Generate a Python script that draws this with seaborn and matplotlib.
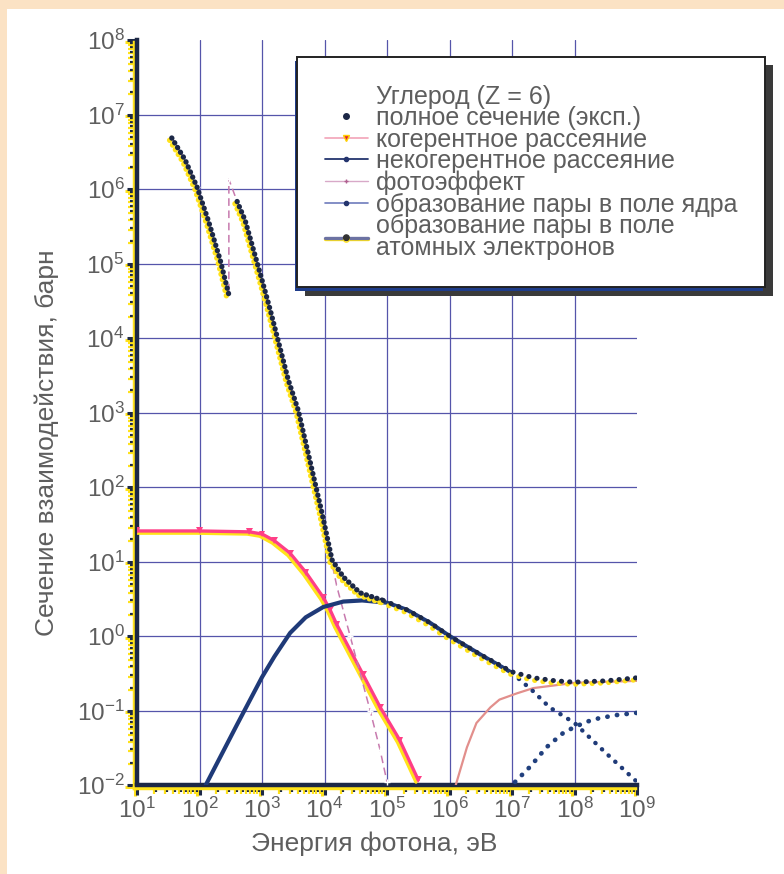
import numpy as np
import pandas as pd
import matplotlib
matplotlib.use("Agg")
import matplotlib.pyplot as plt
import matplotlib.patheffects as pe
import matplotlib.ticker as mticker
from matplotlib.lines import Line2D
from matplotlib.patches import Rectangle
import seaborn as sns

# ---------------- data ----------------
# photon energy, eV ; cross section, barn
E_total = [36, 59, 91, 138, 214, 295,
           400, 537, 1000, 1350, 2630, 3800, 7080, 9120, 13200, 20000, 37000,
           87000, 2.1e5, 4.9e5, 1e6, 3.16e6, 1e7, 2.2e7, 5e7, 1e8, 3.16e8, 1e9]
S_total = [4.84e6, 2.45e6, 1.07e6, 3.8e5, 1.12e5, 3.8e4,
           6.8e5, 3.8e5, 6.0e4, 2.4e4, 2750, 1070, 112, 44.7, 10.5, 6.2, 3.8,
           3.0, 2.24, 1.5, 1.0, 0.56, 0.33, 0.275, 0.25, 0.24, 0.25, 0.275]
seg_total = [0] * 6 + [1] * 22

E_coh = [10, 100, 630, 1000, 1580, 2820, 5000, 9550, 12300, 15800, 41700,
         78000, 1.6e5, 3.16e5]
S_coh = [25.7, 25.7, 25.0, 23.4, 19.0, 12.9, 7.2, 3.3, 2.24, 1.41, 0.30,
         0.11, 0.04, 0.0117]

E_incoh = [126, 400, 1000, 1580, 2820, 5000, 9550, 20000, 40000, 1e5, 2.1e5,
           4.9e5, 1e6, 3.16e6, 1e7, 2.2e7, 4e7, 1e8, 3.16e8, 1e9]
S_incoh = [0.01, 0.065, 0.28, 0.53, 1.1, 1.78, 2.45, 2.9, 3.0, 2.8, 2.24,
           1.5, 1.0, 0.56, 0.32, 0.18, 0.11, 0.068, 0.027, 0.011]

E_photo = [36, 59, 91, 138, 214, 295, 295, 400, 537, 1000, 1350, 2630, 3800,
           7080, 9120, 15800, 25700, 53700, 77600, 1e5]
S_photo = [4.84e6, 2.45e6, 1.07e6, 3.8e5, 1.12e5, 3.8e4, 1.35e6, 6.8e5,
           3.8e5, 6.0e4, 2.4e4, 2750, 1070, 112, 41.7, 4.57, 1.0, 0.1,
           0.0295, 0.011]

E_pair_nuc = [1.26e6, 1.9e6, 2.7e6, 4.5e6, 6.3e6, 1.2e7, 2.2e7, 1e8, 1e9]
S_pair_nuc = [0.01, 0.032, 0.068, 0.11, 0.14, 0.17, 0.2, 0.235, 0.25]

E_pair_el = [1.12e7, 2.0e7, 3.55e7, 6.6e7, 1e8, 1.6e8, 2.5e8, 4.8e8, 1e9]
S_pair_el = [0.011, 0.018, 0.032, 0.05, 0.06, 0.071, 0.079, 0.087, 0.093]

legend_title = "Углерод (Z = 6)"
labels = ["полное сечение (эксп.)",
          "когерентное рассеяние",
          "некогерентное рассеяние",
          "фотоэффект",
          "образование пары в поле ядра",
          "образование пары в поле\nатомных электронов"]
xlabel = "Энергия фотона, эВ"
ylabel = "Сечение взаимодействия, барн"

# ---------------- style ----------------
sns.set_theme(style="white")
plt.rcParams["font.family"] = ["Liberation Sans", "DejaVu Sans"]
plt.rcParams["mathtext.fontset"] = "custom"
plt.rcParams["mathtext.rm"] = "Liberation Sans"
plt.rcParams["mathtext.it"] = "Liberation Sans:italic"
plt.rcParams["mathtext.bf"] = "Liberation Sans:bold"

NAVY = "#1c2846"
YEL = "#ffe21a"
GRAY = "#5e5e5e"

fig = plt.figure(figsize=(7.84, 8.74), dpi=100)
fig.patch.set_facecolor("#fbe2c4")
fig.add_artist(Rectangle((0.009, 0.0), 0.991, 0.990, transform=fig.transFigure,
                         facecolor="white", edgecolor="none", zorder=-5))

ax = fig.add_axes([137 / 784, 1 - 785 / 874, 500 / 784, 745 / 874])
ax.set_facecolor("white")
ax.set_xscale("log")
ax.set_yscale("log")
ax.set_xlim(10, 1e9)
ax.set_ylim(1e-2, 1e8)
ax.set_axisbelow(True)
ax.grid(True, which="major", color="#5555aa", lw=0.9)
ax.grid(False, which="minor")

shadow = [pe.SimpleLineShadow(offset=(-1.6, -1.6), shadow_color=YEL, alpha=1.0, rho=1.0),
          pe.Normal()]

df_total = pd.DataFrame({"E": E_total, "S": S_total, "seg": seg_total})
df_coh = pd.DataFrame({"E": E_coh, "S": S_coh})
df_incoh = pd.DataFrame({"E": E_incoh, "S": S_incoh})
df_photo = pd.DataFrame({"E": E_photo, "S": S_photo})
df_pn = pd.DataFrame({"E": E_pair_nuc, "S": S_pair_nuc})
df_pe = pd.DataFrame({"E": E_pair_el, "S": S_pair_el})

# coherent scattering
sns.lineplot(data=df_coh, x="E", y="S", estimator=None, sort=False, ax=ax,
             color="#ff3f86", lw=2.4, marker="v", markersize=5,
             markeredgewidth=0, path_effects=shadow, legend=False, zorder=3)
# incoherent scattering
lo = df_incoh[df_incoh.E <= 1e7]
hi = df_incoh[df_incoh.E >= 1e7]
sns.lineplot(data=lo, x="E", y="S", estimator=None, sort=False, ax=ax,
             color="#1f3a78", lw=3.0, legend=False, zorder=4)
sns.lineplot(data=hi, x="E", y="S", estimator=None, sort=False, ax=ax,
             color="#1f3a78", lw=3.2, linestyle=(0, (0.05, 2.0)),
             dash_capstyle="round", legend=False, zorder=4)
# photoeffect
sns.lineplot(data=df_photo, x="E", y="S", estimator=None, sort=False, ax=ax,
             color="#c77aae", lw=1.1, linestyle=(0, (5, 3)), marker="+",
             markersize=5, markeredgewidth=1.0, legend=False, zorder=3)
# pair production in nuclear field
sns.lineplot(data=df_pn, x="E", y="S", estimator=None, sort=False, ax=ax,
             color="#e28f8c", lw=1.6, legend=False, zorder=3)
# pair production in electron field
sns.lineplot(data=df_pe, x="E", y="S", estimator=None, sort=False, ax=ax,
             color="#21407e", lw=3.4, linestyle=(0, (0.05, 2.0)),
             dash_capstyle="round", legend=False, zorder=4)
# total (experiment)
tlo = df_total[df_total.E <= 1e5]
thi = df_total[df_total.E >= 87000]
sns.lineplot(data=tlo, x="E", y="S", units="seg", estimator=None, sort=False,
             ax=ax, color=NAVY, lw=3.8, linestyle=(0, (0.05, 1.0)),
             dash_capstyle="round", path_effects=shadow, legend=False, zorder=5)
sns.lineplot(data=thi, x="E", y="S", estimator=None, sort=False,
             ax=ax, color=NAVY, lw=3.6, linestyle=(0, (0.05, 1.6)),
             dash_capstyle="round", path_effects=shadow, legend=False, zorder=5)

# ---------------- axes decoration ----------------
ax.set_xlabel(xlabel, fontsize=19, color=GRAY)
ax.set_ylabel(ylabel, fontsize=19, color=GRAY)
ax.yaxis.set_label_coords(-0.155, 0.46)
ax.xaxis.set_label_coords(0.475, -0.062)

ax.xaxis.set_major_locator(mticker.LogLocator(base=10, numticks=20))
ax.yaxis.set_major_locator(mticker.LogLocator(base=10, numticks=20))
ax.xaxis.set_minor_locator(mticker.LogLocator(base=10, subs=np.arange(2, 10), numticks=100))
ax.yaxis.set_minor_locator(mticker.LogLocator(base=10, subs=np.arange(2, 10), numticks=100))
ax.xaxis.set_minor_formatter(mticker.NullFormatter())
ax.yaxis.set_minor_formatter(mticker.NullFormatter())

ax.tick_params(which="major", direction="out", length=7, width=2.2, color=NAVY,
               labelsize=17.5, labelcolor=GRAY, pad=2,
               bottom=True, left=True, top=False, right=False)
ax.tick_params(which="minor", direction="out", length=5, width=1.6, color=NAVY,
               bottom=True, left=True, top=False, right=False)

for s in ["top", "right"]:
    ax.spines[s].set_visible(False)
for s in ["left", "bottom"]:
    ax.spines[s].set_color(NAVY)
    ax.spines[s].set_linewidth(3.2)
    ax.spines[s].set_path_effects([pe.SimpleLineShadow(offset=(-1.8, -1.8),
                                   shadow_color=YEL, alpha=1, rho=1), pe.Normal()])

# ---------------- legend ----------------
handles = [
    Line2D([], [], linestyle="none"),
    Line2D([], [], linestyle="none", marker="o", markersize=4, color=NAVY),
    Line2D([], [], color="#f2a3b8", lw=1.2, marker="v", markersize=4,
           markerfacecolor="#e0203a", markeredgecolor="#ffd000"),
    Line2D([], [], color="#24356e", lw=1.3, marker="o", markersize=3),
    Line2D([], [], color="#d8a9c8", lw=1.0, marker="+", markersize=3,
           markeredgecolor="#b06090"),
    Line2D([], [], color="#6e7cbc", lw=1.2, marker="o", markersize=3,
           markerfacecolor="#24356e", markeredgecolor="#24356e"),
    Line2D([], [], color="#6c72a2", lw=2.4, marker="o", markersize=4,
           markerfacecolor="#333", markeredgecolor="#333",
           path_effects=[pe.SimpleLineShadow(offset=(0, -1.2), shadow_color=YEL,
                                             alpha=1, rho=1), pe.Normal()]),
]
leg = ax.legend(handles, [legend_title] + labels, loc="upper left",
                bbox_to_anchor=(0.32, 0.977), frameon=True, fancybox=False,
                edgecolor="#222222", facecolor="white", framealpha=1,
                fontsize=18, labelspacing=-0.1, handlelength=1.75,
                handletextpad=0.3, borderpad=1.1, borderaxespad=0)
leg.set_zorder(10)
for t in leg.get_texts():
    t.set_color(GRAY)
    t.set_linespacing(0.87)
fr = leg.get_frame()
fr.set_linewidth(1.4)
fr.set_path_effects([pe.SimplePatchShadow(offset=(6, -6), shadow_rgbFace="#3a3a3a",
                                          alpha=1.0, rho=1.0),
                     pe.SimplePatchShadow(offset=(-1.5, -3), shadow_rgbFace="#1e3c8a",
                                          alpha=1.0, rho=1.0),
                     pe.Normal()])

# hide the grid lines lying on the open top / right edges, add tick shadows
fig.canvas.draw()
tick_shadow = [pe.SimpleLineShadow(offset=(-1.5, -1.2), shadow_color=YEL, alpha=1, rho=1),
               pe.Normal()]
for t in ax.xaxis.get_major_ticks():
    if t.get_loc() >= 1e9 * 0.99:
        t.gridline.set_visible(False)
for t in ax.yaxis.get_major_ticks():
    if t.get_loc() >= 1e8 * 0.99:
        t.gridline.set_visible(False)
for axis in (ax.xaxis, ax.yaxis):
    for t in axis.get_major_ticks() + axis.get_minor_ticks():
        t.tick1line.set_path_effects(tick_shadow)

fig.savefig("out.png", dpi=100, facecolor=fig.get_facecolor())
